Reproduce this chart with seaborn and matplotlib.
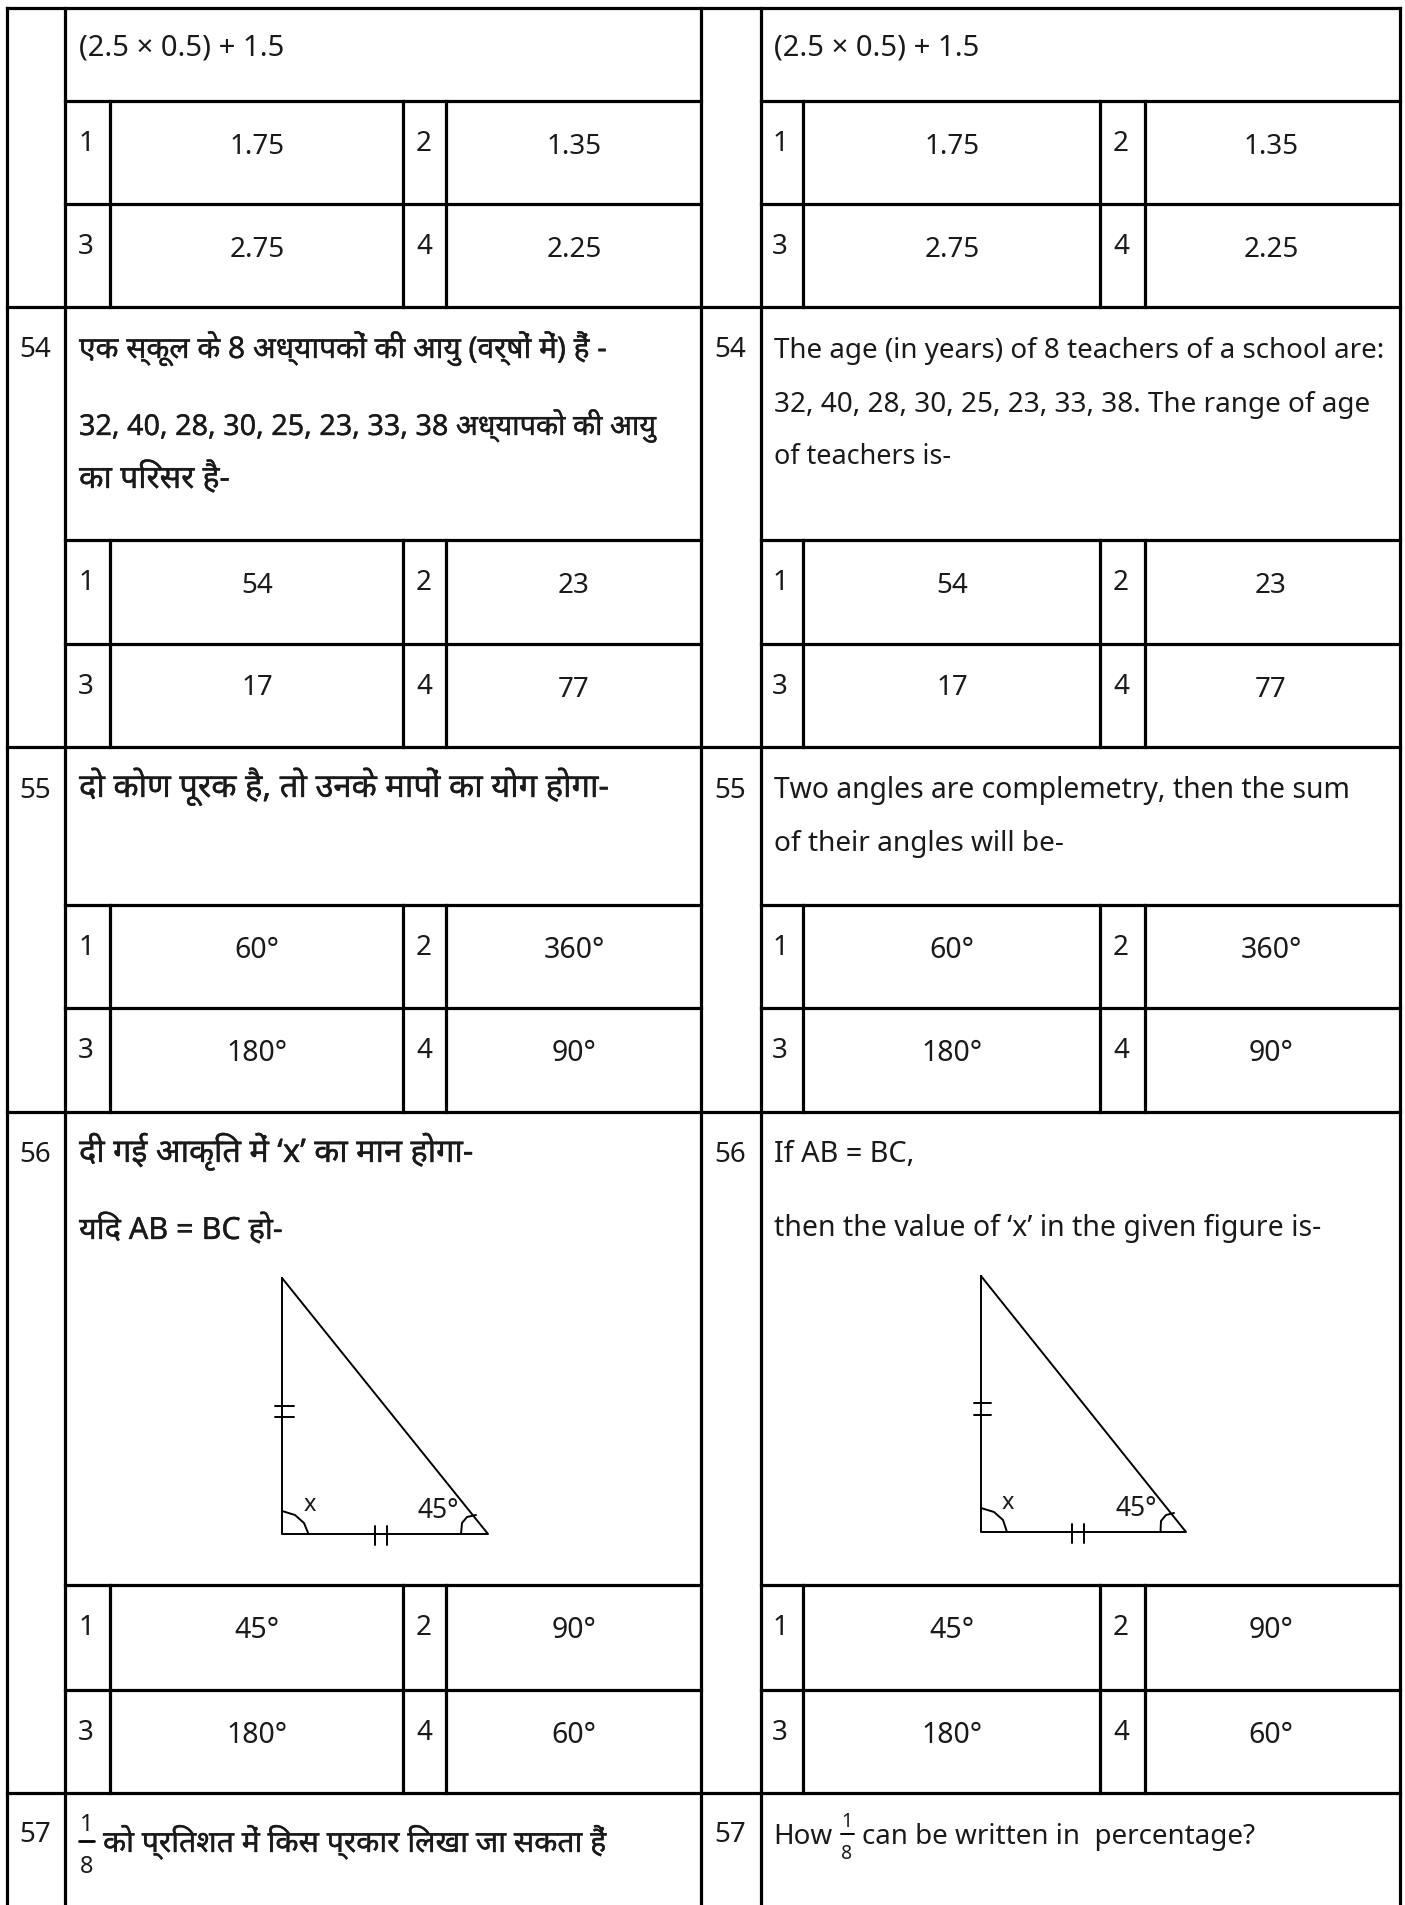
import re
import pandas as pd
import matplotlib
matplotlib.use('Agg')
import matplotlib.pyplot as plt
import matplotlib.patheffects as pe
import seaborn as sns

# Table rules, in picture pixels
outer_x = [7, 65, 701, 761, 1400]
inner_x = [109.5, 403, 446, 803, 1100, 1145]
full_rows = [9, 308, 748, 1113, 1794]
part_rows = [102, 205, 541, 645, 906, 1009, 1586, 1691]
option_spans = [(102, 308), (541, 748), (906, 1113), (1586, 1794)]
column_spans = [(65, 701), (761, 1400)]
page_bottom = 1906

# Option cells
option_values = [
    ['1.75', '1.35'], ['2.75', '2.25'],
    ['54', '23'], ['17', '77'],
    ['60°', '360°'], ['180°', '90°'],
    ['45°', '90°'], ['180°', '60°'],
]
option_labels = [['1', '2'], ['3', '4']] * 4
label_x = [[86, 424], [780, 1121]]
value_x = [[257, 574], [952, 1271]]

# Question numbers
question_numbers = ['54', '55', '56', '57']
number_y = [357, 798, 1162, 1842]
number_x = [35, 730]

# Question text
left_text = [
    '(2.5 × 0.5) + 1.5',
    'एक स्कूल के 8 अध्यापकों की आयु (वर्षों में) हैं -',
    '32, 40, 28, 30, 25, 23, 33, 38 अध्यापको की आयु',
    'का परिसर है-',
    'दो कोण पूरक है, तो उनके मापों का योग होगा-',
    'दी गई आकृति में ‘x’ का मान होगा-',
    'यदि AB = BC हो-',
]
left_y = [55, 359, 436, 489, 798, 1163, 1240]
left_size = [21, 21.5, 20.7, 23, 23.6, 23.4, 22]

right_text = [
    '(2.5 × 0.5) + 1.5',
    'The age (in years) of 8 teachers of a school are:',
    '32, 40, 28, 30, 25, 23, 33, 38. The range of age',
    'of teachers is-',
    'Two angles are complemetry, then the sum',
    'of their angles will be-',
    'If AB = BC,',
    'then the value of ‘x’ in the given figure is-',
]
right_y = [55, 358, 412, 464, 798, 851, 1162, 1236]
right_size = [21, 20, 20.1, 19.4, 20.4, 20.2, 20.8, 20.5]
left_x = 79
right_x = 774

q57_left = 'को प्रतिशत में किस प्रकार लिखा जा सकता हैं'
q57_how = 'How'
q57_right = 'can be written in  percentage?'

# Triangles of question 56
left_triangle_x = [282, 282, 488, 282]
left_triangle_y = [1279, 1535, 1535, 1279]
right_triangle_x = [981, 981, 1186, 981]
right_triangle_y = [1277, 1533, 1533, 1277]
figure_strokes = [
    ([275, 294], [1407, 1407]), ([275, 294], [1418, 1418]),
    ([375, 375], [1527, 1546]), ([387, 387], [1527, 1546]),
    ([282, 295, 304, 308.5], [1512, 1516, 1524, 1535]),
    ([461, 462, 467, 476], [1535, 1524, 1518, 1516]),
    ([973.5, 991], [1404, 1404]), ([973.5, 991], [1416, 1416]),
    ([1072, 1072], [1525, 1544]), ([1084, 1084], [1525, 1544]),
    ([981, 994, 1003, 1007], [1509, 1513, 1521, 1533]),
    ([1160.5, 1161, 1166, 1174], [1533, 1522, 1516, 1514]),
]
figure_labels = ['x', '45°', 'x', '45°']
figure_label_x = [310, 438, 1008, 1136]
figure_label_y = [1505, 1511, 1503, 1509]
figure_label_size = [17, 19, 17, 19]

sns.set_theme(style='white')
plt.rcParams['font.family'] = ['Noto Sans', 'DejaVu Sans']

W, H = 1405, 1906
fig = plt.figure(figsize=(W / 100, H / 100), dpi=100, facecolor='white')
ax = fig.add_axes([0, 0, 1, 1])
ink = '#1a1a1a'
heavy = [pe.withStroke(linewidth=0.25, foreground=ink)]


def segments(pairs):
    rows = []
    for i, (xs, ys) in enumerate(pairs):
        for x, y in zip(xs, ys):
            rows.append({'seg': i, 'x': x, 'y': y})
    return pd.DataFrame(rows)


def draw_strokes(pairs, lw, **kw):
    sns.lineplot(data=segments(pairs), x='x', y='y', units='seg', estimator=None,
                 sort=False, color='black', linewidth=lw, ax=ax, **kw)


# matplotlib does not reorder the i matra, so move it in front of its consonant for drawing
def shown(s):
    return re.sub('([क-ह](?:्[क-ह])*)ि', 'ि\\1', s)


def has_hindi(s):
    return re.search('[\u0900-\u097f]', s) is not None


def put(x, y, s, size, **kw):
    effects = heavy if has_hindi(s) else []
    ax.text(x, y, shown(s), fontsize=size, color=ink, va='baseline', path_effects=effects, **kw)


rules = []
for x in outer_x:
    rules.append(([x, x], [full_rows[0], page_bottom]))
for y in full_rows:
    rules.append(([outer_x[0], outer_x[-1]], [y, y]))
for y in part_rows:
    for x0, x1 in column_spans:
        rules.append(([x0, x1], [y, y]))
for y0, y1 in option_spans:
    for x in inner_x:
        rules.append(([x, x], [y0, y1]))
draw_strokes(rules, 2.3, solid_capstyle='projecting')

draw_strokes([(left_triangle_x, left_triangle_y), (right_triangle_x, right_triangle_y)] + figure_strokes, 1.4)

for y, labels, values in zip(part_rows, option_labels, option_values):
    for lx, vx in zip(label_x, value_x):
        for k in range(2):
            put(lx[k], y + 49, labels[k], 20, ha='center')
            size = 20.5 if '°' in values[k] else 20
            lift = 2 if values[k] == '17' else 0
            put(vx[k], y + 52 - lift, values[k], size, ha='center')

for num, y in zip(question_numbers, number_y):
    for x in number_x:
        put(x, y, num, 20, ha='center')

for s, y, size in zip(left_text, left_y, left_size):
    put(left_x, y, s, size)
for s, y, size in zip(right_text, right_y, right_size):
    put(right_x, y, s, size)

for s, x, y, size in zip(figure_labels, figure_label_x, figure_label_y, figure_label_size):
    ax.text(x, y, s, ha='center', va='center', fontsize=size, color=ink)

# Question 57 with its fractions
put(103, 1853, q57_left, 21.7)
put(773, 1844, q57_how, 20)
put(862, 1844, q57_right, 20)
put(87, 1831, '1', 17, ha='center')
put(87, 1873, '8', 17, ha='center')
put(847, 1827, '1', 14, ha='center')
put(847, 1859, '8', 14, ha='center')
draw_strokes([([79, 94], [1842, 1842])], 2.0)
draw_strokes([([841, 854], [1835, 1835])], 1.4)

ax.set_xlim(0, W)
ax.set_ylim(H, 0)
ax.axis('off')
fig.savefig('out.png', dpi=100, facecolor='white')
